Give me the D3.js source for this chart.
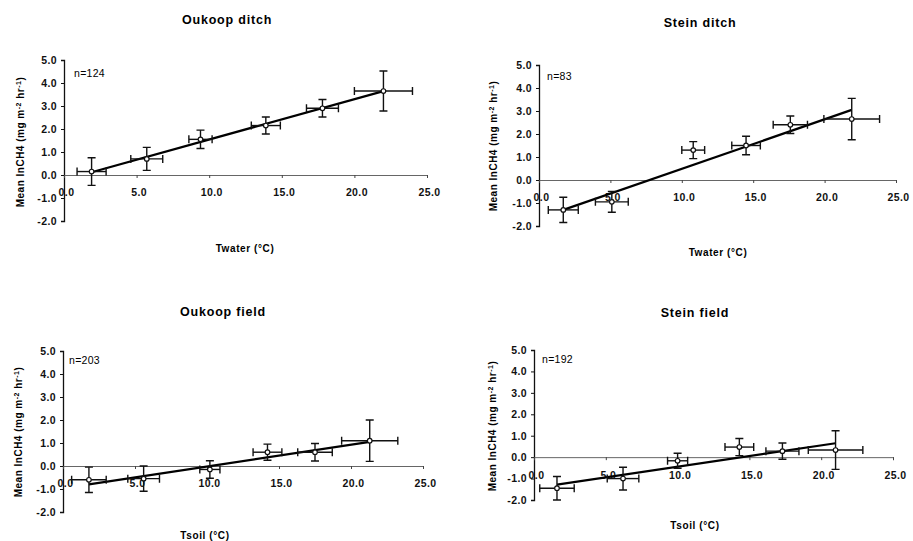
<!DOCTYPE html>
<html>
<head>
<meta charset="utf-8">
<script src="https://cdnjs.cloudflare.com/ajax/libs/d3/7.8.5/d3.min.js"></script>
<style>
  body { margin: 0; background: #fff; }
  svg { display: block; font-family: "Liberation Sans", Arial, sans-serif; }
  .tick text { font-size: 10.5px; font-weight: bold; letter-spacing: 0.4px; fill: #111; }
  .title { font-size: 12.5px; font-weight: bold; letter-spacing: 0.8px; }
</style>
</head>
<body>
<svg width="913" height="541"></svg>
<script>
// four panels: ditch (water temp) and field (soil temp), two sites
var titles = ["Oukoop ditch", "Stein ditch", "Oukoop field", "Stein field"];
var xTitles = ["Twater (\u00b0C)", "Twater (\u00b0C)", "Tsoil (\u00b0C)", "Tsoil (\u00b0C)"];
var nLabels = ["n=124", "n=83", "n=203", "n=192"];
var xTicks = [0, 5, 10, 15, 20, 25];
var yTicks = [-2, -1, 0, 1, 2, 3, 4, 5];

// mean temperature per class and its spread
var tempMeans = [
  [1.9, 5.7, 9.4, 13.9, 17.8, 22.0],
  [1.7, 5.1, 10.8, 14.5, 17.6, 21.9],
  [1.8, 5.6, 10.2, 14.2, 17.5, 21.3],
  [1.6, 6.2, 10.0, 14.3, 17.3, 21.0]
];
var tempErr = [
  [1.0, 1.1, 0.8, 1.0, 1.1, 2.0],
  [1.05, 1.15, 0.8, 1.0, 1.2, 1.95],
  [1.2, 1.1, 0.7, 1.0, 1.2, 1.95],
  [1.2, 1.1, 0.7, 1.0, 1.15, 1.9]
];
// mean ln CH4 flux per class and its spread
var ch4Means = [
  [0.15, 0.7, 1.55, 2.15, 2.9, 3.65],
  [-1.3, -0.95, 1.3, 1.5, 2.4, 2.65],
  [-0.6, -0.55, -0.15, 0.6, 0.6, 1.1],
  [-1.45, -1.0, -0.17, 0.47, 0.28, 0.33]
];
var ch4Err = [
  [0.6, 0.5, 0.4, 0.37, 0.38, 0.87],
  [0.55, 0.45, 0.37, 0.4, 0.38, 0.9],
  [0.55, 0.55, 0.38, 0.35, 0.38, 0.9],
  [0.55, 0.53, 0.35, 0.4, 0.38, 0.9]
];
// linear regression lines
var fitIntercept = [-0.214, -1.666, -0.971, -1.44];
var fitSlope = [0.1756, 0.2153, 0.0949, 0.0995];

// where each panel sits on the page
var layout = [
  {x0: 64, x1: 427, yTop: 60, yBot: 221, title: [227, 20], xt: [245, 248], yl: [20, 142], n: [74, 73]},
  {x0: 539, x1: 896, yTop: 65, yBot: 226, title: [700, 23], xt: [718, 252], yl: [493, 146], n: [547, 76]},
  {x0: 63, x1: 423, yTop: 351, yBot: 512, title: [223, 312], xt: [205, 535], yl: [18, 432], n: [69, 360]},
  {x0: 534, x1: 893, yTop: 350, yBot: 500, title: [695, 313], xt: [695, 525], yl: [492, 426], n: [542, 359]}
];

var svg = d3.select('svg');

layout.forEach(function(L, p) {
  var x = d3.scaleLinear().domain([0, 25]).range([L.x0, L.x1]);
  var y = d3.scaleLinear().domain([-2, 5]).range([L.yBot, L.yTop]);
  var g = svg.append('g');

  // y axis
  var yAxis = g.append('g')
    .attr('transform', 'translate(' + L.x0 + ',0)')
    .call(d3.axisLeft(y).tickValues(yTicks).tickSize(3).tickPadding(4)
      .tickFormat(function(d) { return d3.format('.1f')(d).replace('\u2212', '-'); }));
  yAxis.select('.domain').attr('stroke', '#111').attr('stroke-width', 1.3);
  yAxis.selectAll('.tick line').attr('stroke', '#111');

  // x axis at zero, labels pushed down
  var xAxis = g.append('g')
    .attr('transform', 'translate(0,' + y(0) + ')')
    .call(d3.axisBottom(x).tickValues(xTicks).tickSize(3).tickPadding(11)
      .tickFormat(d3.format('.1f')));
  xAxis.select('.domain').attr('stroke', '#666').attr('stroke-width', 1);
  xAxis.selectAll('.tick line').attr('stroke', '#444');
  xAxis.selectAll('.tick text').attr('dx', 2);

  // regression line
  var xs = tempMeans[p];
  var xmin = d3.min(xs), xmax = d3.max(xs);
  g.append('line')
    .attr('x1', x(xmin)).attr('y1', y(fitIntercept[p] + fitSlope[p] * xmin))
    .attr('x2', x(xmax)).attr('y2', y(fitIntercept[p] + fitSlope[p] * xmax))
    .attr('stroke', '#000').attr('stroke-width', 2.2);

  var pts = xs.map(function(v, i) {
    return {t: v, te: tempErr[p][i], c: ch4Means[p][i], ce: ch4Err[p][i]};
  });
  var cap = 4;
  var bars = g.selectAll('.pt').data(pts).enter().append('g').attr('class', 'pt')
    .attr('stroke', '#111').attr('stroke-width', 1.4).attr('fill', 'none');
  // vertical error bars
  bars.append('line')
    .attr('x1', function(d) { return x(d.t); }).attr('x2', function(d) { return x(d.t); })
    .attr('y1', function(d) { return y(d.c + d.ce); }).attr('y2', function(d) { return y(d.c - d.ce); });
  bars.append('path')
    .attr('d', function(d) {
      return 'M' + (x(d.t) - cap) + ',' + y(d.c + d.ce) + 'h' + 2 * cap +
        'M' + (x(d.t) - cap) + ',' + y(d.c - d.ce) + 'h' + 2 * cap;
    });
  // horizontal error bars
  bars.append('line')
    .attr('x1', function(d) { return x(d.t - d.te); }).attr('x2', function(d) { return x(d.t + d.te); })
    .attr('y1', function(d) { return y(d.c); }).attr('y2', function(d) { return y(d.c); });
  bars.append('path')
    .attr('d', function(d) {
      return 'M' + x(d.t - d.te) + ',' + (y(d.c) - cap) + 'v' + 2 * cap +
        'M' + x(d.t + d.te) + ',' + (y(d.c) - cap) + 'v' + 2 * cap;
    });
  bars.append('circle')
    .attr('cx', function(d) { return x(d.t); }).attr('cy', function(d) { return y(d.c); })
    .attr('r', 2.3).attr('fill', '#fff').attr('stroke-width', 1.2);

  // texts
  g.append('text').attr('class', 'title')
    .attr('x', L.title[0]).attr('y', L.title[1]).attr('dy', '0.35em')
    .attr('text-anchor', 'middle').text(titles[p]);
  g.append('text')
    .attr('x', L.xt[0]).attr('y', L.xt[1]).attr('dy', '0.35em')
    .attr('text-anchor', 'middle')
    .style('font-size', '10px').style('font-weight', 'bold').style('letter-spacing', '0.6px')
    .text(xTitles[p]);
  g.append('text')
    .attr('x', L.n[0]).attr('y', L.n[1]).attr('dy', '0.35em')
    .style('font-size', '10.5px').style('letter-spacing', '0.3px')
    .text(nLabels[p]);

  var yl = g.append('text')
    .attr('transform', 'translate(' + L.yl[0] + ',' + L.yl[1] + ') rotate(-90)')
    .attr('text-anchor', 'middle').attr('dy', '0.35em')
    .style('font-size', '10px').style('font-weight', 'bold').style('letter-spacing', '0.5px');
  yl.append('tspan').text('Mean lnCH4 (mg m');
  yl.append('tspan').attr('baseline-shift', 'super').style('font-size', '7px').text('-2');
  yl.append('tspan').text(' hr');
  yl.append('tspan').attr('baseline-shift', 'super').style('font-size', '7px').text('-1');
  yl.append('tspan').text(')');
});
</script>
</body>
</html>
